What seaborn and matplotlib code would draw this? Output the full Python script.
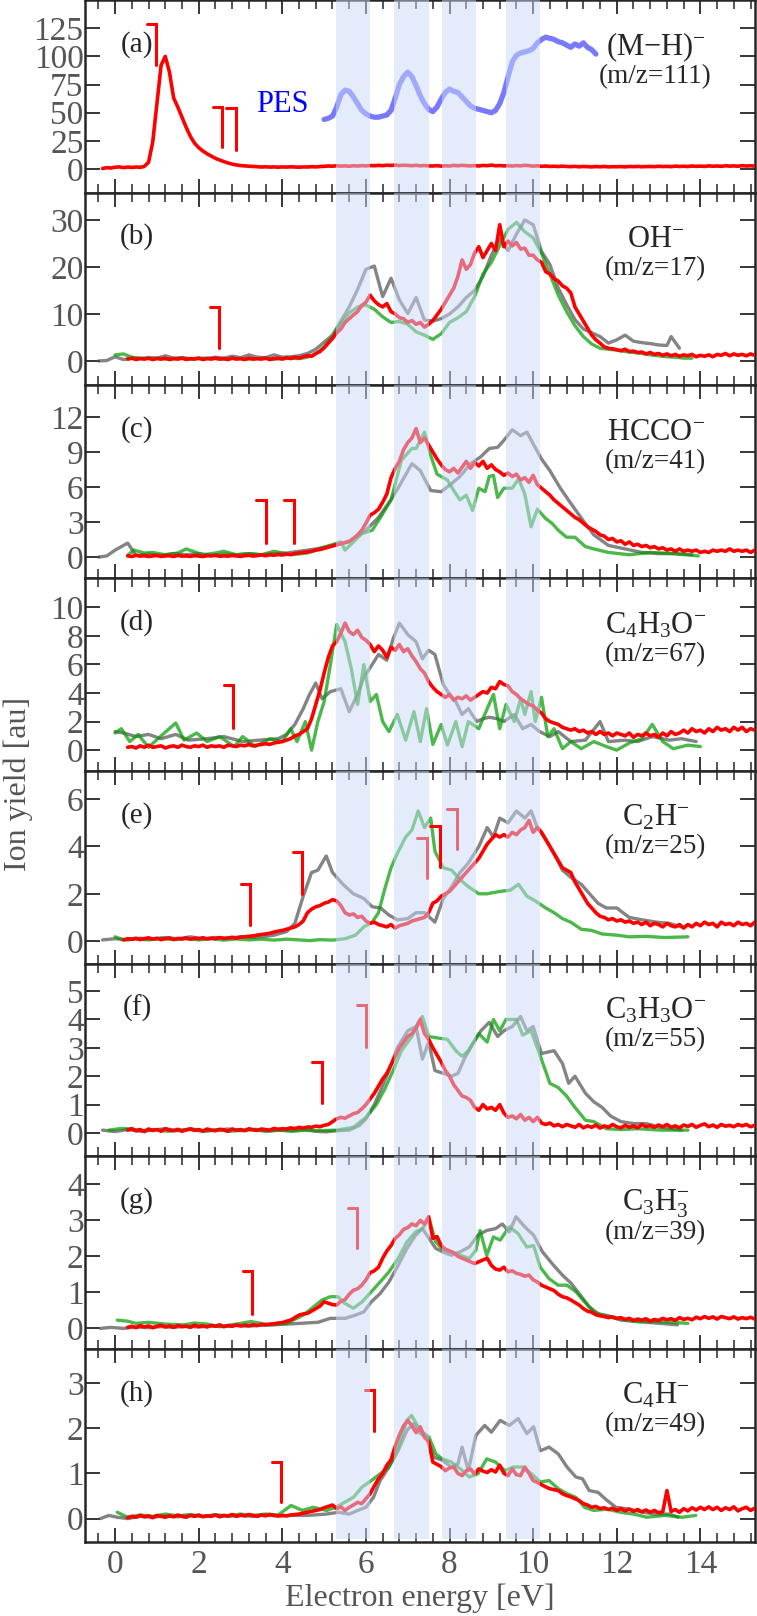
import numpy as np
import matplotlib
matplotlib.use("Agg")
import matplotlib.pyplot as plt
from matplotlib.ticker import MultipleLocator
import seaborn as sns

# photoelectron-spectrum shaded regions (eV)
bands = [(5.28, 6.10), (6.68, 7.51), (7.81, 8.64), (9.35, 10.17)]

# red curves: values on a 0.1 eV grid, first x given by *_start
a_red_start = -0.3
a_red = [0.5, 1.2, 0.9, 1.6, 1.9, 1.3, 1.7, 1.4, 1.8, 1.5,
         2.4, 6, 24, 58, 92, 100, 86, 63, 55, 46, 37, 29, 23,
         19, 16, 13.5, 11.5, 9.5, 8, 6.6, 5.4, 4.4, 3.6, 3.1, 2.8, 2.5, 2.3,
         2.1, 1.8, 2.0, 1.7, 1.9, 1.6, 1.9, 1.7, 2.0, 1.8, 1.6, 1.9, 1.8, 2.1, 1.9, 2.2,
         2.4, 2.7, 2.5, 2.9, 2.6, 2.8, 2.5, 2.9, 2.7, 3.0, 2.8, 3.1, 2.9, 3.3, 3.0, 3.4,
         3.2, 3.5, 3.1, 3.4, 3.2, 3.0, 3.3, 2.9, 3.1, 2.8, 2.7, 3.0, 2.6, 2.9, 2.7, 3.2,
         2.9, 3.3, 3.0, 2.8, 3.1, 2.7, 3.2, 3.0, 3.5, 2.9, 3.1, 2.8, 3.0, 2.7, 3.1, 2.8,
         3.3, 3.0,
         2.6, 2.9, 2.4, 2.7, 2.3, 2.5, 2.2, 2.6, 2.3, 2.1, 2.4, 2.0, 2.3, 2.1, 1.9, 2.2,
         2.0, 2.3, 1.9, 2.1, 2.0, 2.2, 1.9, 2.3, 2.1, 2.4, 2.0, 2.2, 2.3, 2.1, 2.5, 2.2,
         2.4, 2.1, 2.6, 2.3, 2.5, 2.2, 2.7, 2.4, 2.6, 2.3, 2.8, 2.5, 2.7, 2.4, 2.9, 2.6,
         2.8, 2.5, 3.0, 2.7, 2.9, 2.6]

pes_start = 5.0
pes = [44, 45, 47, 55, 66, 70, 69, 64, 58, 52, 49, 47, 46, 46, 47, 48, 52, 63, 75, 82,
       86, 82, 74, 65, 58, 53, 51, 55, 62, 68, 71, 69, 68, 64, 60, 56, 54, 53, 52, 51,
       50, 52, 58, 68, 82, 95, 101, 103, 104, 105, 107, 112, 115, 117, 116, 115, 113,
       112, 110, 108, 111, 109, 112, 108, 106, 102]

b_red_start = 0.3
b_red = [0.4, 0.6, 0.3, 0.5, 0.4, 0.6, 0.3, 0.5, 0.4, 0.6, 0.3, 0.5, 0.4, 0.6, 0.3, 0.5,
         0.4, 0.6, 0.3, 0.5, 0.4, 0.6, 0.4, 0.5, 0.3, 0.6, 0.4, 0.5, 0.3, 0.6, 0.4, 0.5,
         0.4, 0.6, 0.3, 0.5, 0.6, 0.4, 0.7, 0.5, 0.8, 0.6, 0.9, 1.1, 1.0, 1.6, 2.0,
         2.8, 3.8, 4.8, 6.0, 6.8, 8.2, 9.0, 9.8, 10.5, 11.8, 12.5, 14.0, 12.8, 12.0, 11.5,
         12.2, 10.5, 10.0, 9.2, 9.0, 8.2, 8.6, 7.8, 8.2, 7.2, 7.8, 8.6, 9.8, 11.0, 12.5,
         14.0, 15.5, 18.0, 21.5, 19.5, 20.5, 23.0, 24.3, 22.0, 23.5, 25.0, 23.5, 29.0,
         24.3, 25.5, 24.5, 25.2, 23.8, 24.0, 22.5, 22.5, 21.5, 21.0, 19.0, 18.5, 17.5,
         17.0, 16.0, 15.5, 14.5, 11.5, 10.0, 8.5, 7.0, 5.5, 4.5, 3.8, 3.0, 2.7, 2.6, 2.4,
         2.2, 2.5, 2.0, 2.1, 1.8, 1.9, 1.5, 1.8, 1.4, 1.6, 1.2, 1.5, 1.1, 1.4, 1.0, 1.3,
         1.1, 1.4, 0.9, 1.2, 1.0, 1.3, 0.9, 1.4, 1.2, 1.6, 1.1, 1.5, 1.2, 1.4, 1.1, 1.5,
         1.2]

c_red_start = 0.3
c_red = [0.1, 0.05, 0.15, 0.08, 0.12, 0.05, 0.1, 0.14, 0.06, 0.1, 0.12, 0.05, 0.15, 0.08,
         0.1, 0.06, 0.13, 0.09, 0.05, 0.12, 0.1, 0.15, 0.07, 0.11, 0.08, 0.14, 0.1, 0.06,
         0.12, 0.15, 0.09, 0.13, 0.18, 0.12, 0.2, 0.16, 0.22, 0.18, 0.25, 0.22, 0.3,
         0.35, 0.4, 0.45, 0.5, 0.6, 0.65, 0.75, 0.85, 0.95, 1.05, 1.15, 1.25, 1.35, 1.6,
         1.9, 2.3, 2.9, 3.6, 3.8, 4.1, 4.7, 5.4, 6.8, 7.6, 8.2, 9.2, 9.8, 10.2, 11.0, 9.8,
         10.2, 9.6, 9.0, 8.4, 7.9, 7.5, 7.3, 7.6, 7.2, 7.7, 8.2, 7.6, 8.1, 7.8, 8.2, 7.6,
         7.9, 7.5, 7.3, 7.0, 7.2, 6.9, 7.1, 6.6, 6.8, 6.4, 7.0, 6.2, 5.9, 5.6, 5.3, 4.9,
         4.6, 4.3, 4.0, 3.7, 3.4, 3.2, 2.9, 2.6, 2.4, 2.2, 1.9, 1.8, 1.5, 1.6, 1.3, 1.4,
         1.1, 1.3, 1.0, 1.1, 0.9, 1.0, 0.8, 0.9, 0.7, 0.8, 0.6, 0.7, 0.5, 0.7, 0.5, 0.6,
         0.5, 0.6, 0.4, 0.5, 0.4, 0.6, 0.5, 0.6, 0.5, 0.7, 0.5, 0.6, 0.5, 0.6, 0.4, 0.6]

d_red_start = 0.3
d_red = [0.2, 0.25, 0.15, 0.3, 0.2, 0.35, 0.2, 0.25, 0.3, 0.15, 0.25, 0.3, 0.2, 0.35,
         0.25, 0.2, 0.3, 0.25, 0.35, 0.2, 0.3, 0.25, 0.3, 0.2, 0.35, 0.3, 0.25, 0.35, 0.3,
         0.4, 0.3, 0.35,
         0.4, 0.45, 0.4, 0.5, 0.55, 0.6, 0.7, 0.8, 1.0, 1.1, 1.3, 1.5, 2.2, 3.2, 4.2, 5.4,
         6.5, 7.3, 7.6, 8.2, 8.9, 8.3, 8.1, 8.4, 7.9, 7.7, 7.4, 6.9, 7.3, 7.0, 6.5, 7.2,
         7.0, 7.4, 6.9, 7.1, 6.6, 6.2, 5.7, 5.4, 4.8, 4.4, 4.1, 3.9, 3.7, 3.9, 3.5, 3.7,
         3.6, 3.8, 3.5, 3.7, 3.9, 4.1, 4.0, 4.4, 4.3, 4.8, 4.6, 4.5, 4.1, 3.9, 3.6, 3.4,
         3.2, 3.1, 2.8, 2.6, 2.2, 2.0, 1.9, 1.8, 1.6, 1.5, 1.4, 1.5, 1.3, 1.4, 1.2, 1.3,
         1.1, 1.3, 1.1, 1.2, 1.0, 1.2, 1.1, 1.0, 1.2, 0.9, 1.1, 1.0, 1.2, 1.0, 1.1, 0.9,
         1.2, 1.0, 1.3, 1.1, 1.2, 1.4, 1.2, 1.5, 1.3, 1.4, 1.2, 1.5, 1.3, 1.6, 1.4, 1.5,
         1.3, 1.6, 1.4, 1.6, 1.3, 1.5, 1.4]

e_red_start = 0.2
e_red = [0.05, 0.1, 0.08, 0.12, 0.06, 0.1, 0.14, 0.08, 0.12, 0.06, 0.1, 0.13, 0.07, 0.11,
         0.09, 0.13, 0.08, 0.12, 0.1, 0.14, 0.09, 0.12, 0.1, 0.15, 0.11, 0.13, 0.16, 0.12,
         0.17,
         0.18, 0.2, 0.22, 0.25, 0.28, 0.3, 0.33, 0.38, 0.42, 0.45, 0.5, 0.55, 0.6, 0.7,
         0.85, 1.2, 1.35, 1.45, 1.5, 1.6, 1.65, 1.75, 1.7, 1.5, 1.2, 1.1, 1.15, 1.0, 1.05,
         0.85, 0.75, 0.8, 0.7, 0.65, 0.6, 0.7, 0.55, 0.65, 0.7, 0.75, 0.85, 0.9, 0.95, 1.0,
         1.2, 1.6, 1.7, 1.9, 2.0, 2.1, 2.3, 2.5, 2.7, 2.9, 3.1, 3.3, 3.5, 3.8, 4.1, 4.3,
         4.5, 4.4, 4.5, 4.4, 4.6, 4.5, 4.7, 4.8, 5.1, 4.6, 4.8, 4.6, 4.3, 4.0, 3.7, 3.4,
         3.1, 3.0, 2.9, 2.5, 2.2, 1.9, 1.6, 1.4, 1.2, 1.05, 1.0, 0.9, 0.95, 0.85, 0.9, 0.8,
         0.85, 0.75, 0.8, 0.7, 0.8, 0.65, 0.75, 0.7, 0.6, 0.75, 0.65, 0.6, 0.7, 0.55, 0.7,
         0.6, 0.75, 0.65, 0.8, 0.7, 0.75, 0.6, 0.8, 0.7, 0.75, 0.65, 0.8, 0.7, 0.75, 0.65,
         0.8]

f_red_start = 0.3
f_red = [0.1, 0.15, 0.08, 0.12, 0.05, 0.14, 0.09, 0.12, 0.06, 0.15, 0.1, 0.08, 0.13, 0.06,
         0.11, 0.15, 0.09, 0.12, 0.07, 0.14, 0.1, 0.08, 0.13, 0.11, 0.06, 0.14, 0.1, 0.12,
         0.08, 0.15, 0.11, 0.09, 0.14, 0.12, 0.1, 0.16, 0.13, 0.15,
         0.14, 0.18, 0.15, 0.2, 0.17, 0.21, 0.2, 0.24, 0.22, 0.27, 0.3, 0.4, 0.5, 0.55,
         0.52, 0.6, 0.68, 0.72, 0.85, 1.0, 1.2, 1.4, 1.65, 1.9, 2.1, 2.4, 2.7, 3.0, 3.2,
         3.4, 3.5, 3.7, 4.0, 3.5, 3.3, 3.0, 2.75, 2.5, 2.2, 2.0, 1.7, 1.5, 1.3, 1.25, 1.15,
         0.9, 0.8, 1.0, 0.85, 0.9, 0.8, 1.0, 0.7, 0.55, 0.6, 0.5, 0.65, 0.45, 0.55, 0.4,
         0.55, 0.35, 0.3, 0.35, 0.25, 0.3, 0.22, 0.3, 0.25, 0.2, 0.3, 0.18, 0.25, 0.2,
         0.28, 0.17, 0.25, 0.2, 0.3, 0.22, 0.18, 0.27, 0.2, 0.25, 0.18, 0.3, 0.22, 0.26,
         0.2, 0.28, 0.22, 0.3, 0.2, 0.25, 0.18, 0.28, 0.23, 0.3, 0.2, 0.27, 0.32, 0.22,
         0.28, 0.2, 0.3, 0.24, 0.27, 0.22, 0.3, 0.25, 0.3, 0.22, 0.27]

g_red_start = 0.3
g_red = [0.03, 0.06, 0.02, 0.08, 0.04, 0.07, 0.02, 0.06, 0.09, 0.04, 0.07, 0.03, 0.08,
         0.05, 0.06, 0.03, 0.09, 0.05, 0.07, 0.04, 0.08, 0.06, 0.1, 0.05, 0.08, 0.06, 0.1,
         0.07, 0.09, 0.08,
         0.1, 0.08, 0.11, 0.1, 0.12, 0.13, 0.15, 0.16, 0.2, 0.23, 0.3, 0.37, 0.4, 0.42,
         0.48, 0.55, 0.62, 0.74, 0.7, 0.66, 0.65, 0.75, 0.8, 0.95, 1.06, 1.1, 1.2, 1.35,
         1.55, 1.6, 1.7, 1.95, 2.15, 2.3, 2.5, 2.6, 2.75, 2.8, 2.9, 2.85, 3.0, 2.9, 3.1,
         2.5, 2.55, 2.3, 2.2, 2.15, 2.1, 2.0, 1.95, 1.9, 1.85, 1.8, 1.85, 1.9, 1.95, 1.75,
         1.65, 1.62, 1.7, 1.57, 1.6, 1.53, 1.5, 1.45, 1.48, 1.35, 1.29, 1.2, 1.15, 1.1,
         1.05, 0.95, 0.88, 0.85, 0.79, 0.72, 0.65, 0.55, 0.48, 0.45, 0.38, 0.35, 0.33, 0.3,
         0.32, 0.28, 0.3, 0.25, 0.28, 0.22, 0.26, 0.23, 0.27, 0.2, 0.25, 0.22, 0.28, 0.24,
         0.27, 0.22, 0.3, 0.25, 0.28, 0.24, 0.31, 0.27, 0.33, 0.28, 0.32, 0.26, 0.33, 0.3,
         0.27, 0.32, 0.26, 0.3, 0.27, 0.31, 0.26]

h_red_start = 0.3
h_red = [0.02, 0.05, 0.03, 0.07, 0.04, 0.06, 0.02, 0.07, 0.05, 0.03, 0.06, 0.04, 0.08,
         0.05, 0.03, 0.07, 0.05, 0.08, 0.04, 0.06, 0.05, 0.08, 0.04, 0.07, 0.06, 0.09,
         0.05, 0.08, 0.06, 0.09, 0.07, 0.05, 0.08, 0.06, 0.09, 0.07, 0.06, 0.07,
         0.06, 0.08, 0.09, 0.1, 0.12, 0.14, 0.16, 0.18, 0.2, 0.24, 0.27, 0.3, 0.22, 0.26,
         0.18, 0.25, 0.3, 0.36, 0.33, 0.44, 0.55, 0.72, 0.88, 1.0, 1.18, 1.3, 1.6, 1.85,
         2.05, 2.17, 2.05, 1.9, 2.03, 1.8, 1.7, 1.25, 1.2, 1.15, 1.06, 1.12, 1.14, 1.0,
         0.95, 1.06, 1.1, 0.98, 1.1, 1.05, 1.02, 1.08, 1.03, 1.18, 1.0, 0.95, 1.1, 0.97,
         0.95, 1.14, 1.0, 0.84, 0.8, 0.75, 0.7, 0.66, 0.64, 0.62, 0.55, 0.51, 0.48, 0.44,
         0.4, 0.33, 0.3, 0.25, 0.27, 0.22, 0.24, 0.2, 0.23, 0.18, 0.22, 0.17, 0.21, 0.16,
         0.2, 0.15, 0.19, 0.14, 0.18, 0.13, 0.15, 0.62, 0.16, 0.2, 0.14, 0.22, 0.17, 0.24,
         0.19, 0.25, 0.2, 0.26, 0.2, 0.25, 0.18, 0.24, 0.2, 0.26, 0.17, 0.22, 0.25, 0.18,
         0.23]

# gray and green curves: (energy, yield) points
b_gray = [(-0.4, 0.0), (-0.2, 0.1), (0.0, 0.9), (0.2, 0.3), (0.4, 0.6), (0.6, 0.5), (0.8, 0.7),
          (1.0, 0.6), (1.2, 1.1), (1.4, 0.6), (1.6, 0.7), (1.8, 0.5), (2.0, 0.6), (2.2, 0.5),
          (2.4, 0.8), (2.6, 0.6), (2.8, 1.0), (3.0, 0.7), (3.2, 1.3), (3.4, 0.8), (3.6, 0.7),
          (3.8, 1.3), (4.0, 0.8), (4.2, 0.9), (4.4, 1.1), (4.6, 1.6), (4.8, 2.5), (5.0, 4.0),
          (5.2, 5.5), (5.4, 8.5), (5.6, 11.5), (5.8, 15.2), (6.0, 19.5), (6.2, 20.2),
          (6.4, 13.7), (6.6, 17.6), (6.8, 13.0), (7.0, 10.1), (7.2, 13.5), (7.4, 8.7),
          (7.6, 8.5), (7.8, 9.0), (8.0, 10.0), (8.2, 11.5), (8.4, 13.5), (8.6, 15.0),
          (8.8, 18.0), (9.0, 22.5), (9.2, 26.0), (9.4, 23.5), (9.6, 27.0), (9.8, 30.0),
          (10.0, 29.0), (10.2, 23.3), (10.4, 20.5), (10.6, 15.5), (10.8, 12.0), (11.0, 8.8),
          (11.2, 6.8), (11.4, 6.0), (11.6, 5.2), (11.8, 3.8), (12.0, 4.5), (12.2, 5.5),
          (12.4, 4.2), (12.6, 3.9), (12.8, 3.7), (13.0, 3.4), (13.2, 3.3), (13.3, 5.2),
          (13.5, 2.7)]
b_green = [(0.0, 1.3), (0.2, 1.5), (0.4, 0.8), (0.6, 0.6), (0.8, 0.5), (1.0, 0.6), (1.2, 0.4),
           (1.4, 0.5), (1.6, 0.6), (1.8, 0.4), (2.0, 0.5), (2.2, 0.6), (2.4, 0.5), (2.6, 0.4),
           (2.8, 0.6), (3.0, 0.5), (3.2, 0.4), (3.4, 0.5), (3.6, 0.6), (3.8, 0.4), (4.0, 0.5),
           (4.2, 0.6), (4.4, 0.5), (4.6, 0.8), (4.8, 1.5), (5.0, 3.0), (5.2, 5.2), (5.4, 8.0),
           (5.6, 10.2), (5.8, 11.5), (6.0, 11.9), (6.2, 11.0), (6.4, 9.4), (6.6, 8.2),
           (6.8, 8.4), (7.0, 7.8), (7.2, 6.2), (7.4, 5.5), (7.6, 4.6), (7.8, 5.8), (8.0, 8.2),
           (8.2, 9.2), (8.4, 10.5), (8.6, 13.7), (8.8, 18.5), (9.0, 21.0), (9.2, 24.5),
           (9.4, 28.0), (9.6, 29.5), (9.8, 27.5), (10.0, 26.2), (10.2, 22.9), (10.4, 18.5),
           (10.6, 14.0), (10.8, 10.5), (11.0, 7.5), (11.2, 5.2), (11.4, 3.6), (11.6, 2.7),
           (11.8, 2.5), (12.0, 2.3), (12.2, 2.0), (12.4, 1.8), (12.6, 1.6), (12.8, 1.3),
           (13.0, 1.1), (13.2, 0.9), (13.4, 0.8), (13.6, 0.6), (13.8, 0.6)]

c_gray = [(-0.4, 0.0), (-0.2, 0.1), (0.0, 0.6), (0.3, 1.2), (0.5, 0.15), (0.8, 0.25),
          (1.1, 0.15), (1.4, 0.3), (1.7, 0.2), (2.0, 0.3), (2.3, 0.15), (2.6, 0.25),
          (2.9, 0.2), (3.2, 0.3), (3.5, 0.2), (3.8, 0.3), (4.1, 0.35), (4.4, 0.5), (4.8, 0.7),
          (5.2, 1.0), (5.6, 1.3), (6.0, 2.3), (6.3, 3.4), (6.6, 4.9), (6.8, 6.1), (7.1, 8.0),
          (7.3, 7.4), (7.55, 5.7), (7.8, 5.6), (8.05, 6.3), (8.25, 6.9), (8.5, 8.0),
          (8.75, 8.6), (8.95, 9.3), (9.15, 9.4), (9.3, 10.0), (9.5, 10.9), (9.7, 10.4),
          (9.85, 10.7), (10.0, 9.7), (10.2, 8.4), (10.4, 7.4), (10.65, 5.9), (10.9, 4.6),
          (11.2, 3.1), (11.45, 1.9), (11.8, 1.0), (12.2, 0.7), (12.6, 0.4), (13.0, 0.3),
          (13.4, 0.3), (13.8, 0.2)]
c_green = [(0.3, 0.15), (0.45, 0.6), (0.7, 0.35), (0.9, 0.4), (1.2, 0.2), (1.5, 0.35),
           (1.7, 0.7), (2.1, 0.2), (2.4, 0.35), (2.6, 0.5), (2.9, 0.2), (3.2, 0.3), (3.5, 0.2),
           (3.7, 0.4), (3.8, 0.5), (4.2, 0.2), (4.6, 0.35), (5.05, 0.9), (5.4, 1.3),
           (5.5, 0.6), (5.7, 1.3), (5.9, 2.0), (6.15, 2.3), (6.35, 3.4), (6.6, 4.9),
           (6.85, 8.3), (7.1, 9.3), (7.2, 9.3), (7.4, 10.7), (7.55, 8.7), (7.7, 7.1),
           (7.95, 6.6), (8.1, 5.7), (8.25, 4.9), (8.4, 5.3), (8.55, 4.0), (8.7, 5.9),
           (8.85, 5.6), (8.95, 6.9), (9.05, 7.0), (9.15, 5.1), (9.3, 5.9), (9.5, 5.9),
           (9.65, 6.7), (9.8, 5.4), (9.95, 2.6), (10.1, 4.1), (10.3, 3.3), (10.45, 2.9),
           (10.6, 2.3), (10.8, 1.7), (11.0, 1.7), (11.25, 0.9), (11.45, 0.7), (11.8, 0.4),
           (12.3, 0.2), (12.8, 0.4), (13.35, 0.3), (13.95, 0.1)]

d_gray = [(0.0, 1.3), (0.2, 1.2), (0.5, 0.95), (0.8, 1.1), (1.1, 0.8), (1.45, 1.1), (1.75, 0.7),
          (2.2, 0.8), (2.6, 0.95), (3.05, 0.6), (3.45, 0.7), (3.9, 0.8), (4.1, 1.1), (4.3, 1.8),
          (4.5, 2.9), (4.65, 3.9), (4.8, 4.7), (4.95, 3.6), (5.15, 4.1), (5.4, 4.3), (5.6, 2.7),
          (5.8, 3.9), (5.95, 5.1), (6.15, 6.0), (6.3, 6.7), (6.5, 6.3), (6.65, 7.8),
          (6.8, 8.9), (7.0, 8.1), (7.2, 7.6), (7.35, 6.4), (7.5, 7.0), (7.65, 6.7),
          (7.85, 4.6), (8.0, 3.9), (8.15, 3.4), (8.3, 2.5), (8.45, 2.9), (8.65, 2.0),
          (8.8, 2.2), (8.95, 2.3), (9.15, 2.2), (9.3, 2.0), (9.55, 2.5), (9.75, 1.5),
          (9.95, 1.8), (10.15, 1.3), (10.4, 0.95), (10.6, 1.3), (10.9, 0.6), (11.25, 0.7),
          (11.6, 2.0), (11.8, 0.6), (12.2, 0.7), (12.5, 0.6), (12.85, 0.95), (13.25, 0.7),
          (13.55, 0.8), (13.9, 0.6)]
d_green = [(0.0, 1.2), (0.15, 1.5), (0.35, 0.6), (0.55, 1.1), (0.8, 0.2), (1.1, 1.0),
           (1.45, 1.9), (1.65, 0.7), (1.95, 1.2), (2.2, 0.6), (2.5, 0.95), (2.85, 0.25),
           (3.05, 0.95), (3.35, 0.25), (3.7, 0.8), (4.0, 0.6), (4.2, 1.5), (4.35, 0.6),
           (4.55, 2.0), (4.7, 0.0), (4.85, 2.0), (5.0, 3.4), (5.15, 6.0), (5.3, 8.8),
           (5.5, 7.6), (5.65, 5.7), (5.8, 3.2), (5.95, 6.0), (6.1, 3.4), (6.25, 3.9),
           (6.4, 2.0), (6.55, 1.3), (6.75, 2.5), (6.95, 0.7), (7.15, 2.7), (7.3, 0.6),
           (7.45, 2.9), (7.6, 0.4), (7.8, 1.8), (7.95, 0.35), (8.15, 2.0), (8.3, 0.25),
           (8.45, 2.0), (8.7, 1.5), (8.9, 2.9), (9.05, 3.9), (9.2, 1.5), (9.35, 3.2),
           (9.55, 2.0), (9.7, 3.6), (9.8, 2.5), (9.95, 4.1), (10.05, 2.0), (10.2, 3.7),
           (10.35, 0.95), (10.5, 1.5), (10.7, 0.1), (10.9, 0.6), (11.15, 0.1), (11.45, 0.6),
           (11.75, 0.25), (12.0, 0.0), (12.3, 0.5), (12.6, 0.8), (12.85, 1.8), (13.1, 0.6),
           (13.35, 0.1), (13.7, 0.35), (14.0, 0.25)]

e_gray = [(-0.3, 0.05), (0.0, 0.1), (0.3, 0.05), (0.6, 0.12), (0.9, 0.08), (1.2, 0.15),
          (1.5, 0.1), (1.8, 0.18), (2.1, 0.1), (2.4, 0.15), (2.7, 0.12), (3.0, 0.18),
          (3.3, 0.15), (3.6, 0.2), (3.8, 0.25), (4.1, 0.4), (4.3, 0.75), (4.5, 1.9),
          (4.7, 2.9), (4.85, 3.0), (5.05, 3.6), (5.2, 2.9), (5.45, 2.4), (5.7, 2.0),
          (5.95, 1.8), (6.15, 1.45), (6.35, 1.4), (6.55, 1.1), (6.75, 0.9), (7.0, 0.95),
          (7.2, 1.2), (7.4, 1.2), (7.65, 0.8), (7.85, 1.8), (8.05, 2.3), (8.25, 2.9),
          (8.45, 3.3), (8.7, 4.0), (8.9, 4.8), (9.05, 4.4), (9.2, 5.2), (9.4, 5.0), (9.6, 5.5),
          (9.8, 5.2), (9.95, 5.5), (10.1, 4.8), (10.3, 4.3), (10.5, 3.7), (10.7, 3.0),
          (10.9, 2.7), (11.15, 2.4), (11.35, 2.0), (11.55, 1.6), (11.75, 1.4), (12.0, 1.4),
          (12.3, 1.0), (12.6, 0.9), (12.95, 0.8), (13.25, 0.75), (13.55, 0.6)]
e_green = [(0.0, 0.18), (0.2, 0.05), (0.5, 0.1), (0.8, 0.05), (1.1, 0.12), (1.4, 0.06),
           (1.7, 0.1), (2.0, 0.05), (2.3, 0.1), (2.6, 0.04), (2.9, 0.09), (3.2, 0.05),
           (3.5, 0.08), (3.8, 0.04), (4.1, 0.08), (4.4, 0.05), (4.65, 0.02), (4.9, 0.06),
           (5.2, 0.04), (5.5, 0.1), (5.75, 0.25), (5.95, 0.6), (6.15, 0.8), (6.3, 1.2),
           (6.45, 2.2), (6.6, 3.1), (6.75, 3.7), (6.95, 4.4), (7.1, 4.7), (7.25, 5.5),
           (7.4, 4.8), (7.55, 5.2), (7.65, 3.8), (7.85, 3.1), (8.05, 3.0), (8.25, 2.6),
           (8.45, 2.3), (8.7, 2.0), (8.9, 2.0), (9.2, 2.1), (9.45, 2.15), (9.65, 2.4),
           (9.85, 1.9), (10.05, 1.7), (10.3, 1.4), (10.5, 1.2), (10.7, 0.95), (10.9, 0.8),
           (11.15, 0.5), (11.4, 0.45), (11.65, 0.3), (12.0, 0.25), (12.3, 0.18), (12.7, 0.2),
           (13.15, 0.15), (13.7, 0.18)]

f_gray = [(-0.3, 0.1), (0.0, 0.05), (0.3, 0.12), (0.6, 0.06), (0.9, 0.1), (1.2, 0.15),
          (1.5, 0.08), (1.8, 0.12), (2.1, 0.06), (2.4, 0.1), (2.7, 0.14), (3.0, 0.08),
          (3.3, 0.12), (3.6, 0.06), (3.9, 0.1), (4.2, 0.08), (4.5, 0.12), (4.8, 0.06),
          (5.05, 0.04), (5.3, 0.08), (5.6, 0.1), (5.85, 0.27), (6.0, 0.5), (6.2, 1.0),
          (6.35, 1.5), (6.55, 2.2), (6.75, 3.0), (7.0, 3.6), (7.2, 3.75), (7.35, 2.6),
          (7.5, 3.2), (7.65, 2.2), (7.85, 2.1), (8.05, 2.0), (8.2, 2.1), (8.35, 2.6),
          (8.5, 3.0), (8.75, 3.6), (8.95, 3.9), (9.15, 3.4), (9.3, 3.6), (9.5, 3.75),
          (9.7, 4.1), (9.85, 3.6), (10.0, 3.75), (10.2, 2.8), (10.5, 2.9), (10.7, 2.45),
          (10.85, 1.75), (11.0, 2.0), (11.25, 1.4), (11.45, 1.1), (11.65, 0.9), (11.85, 0.6),
          (12.1, 0.4), (12.4, 0.33), (12.7, 0.33), (13.05, 0.2), (13.55, 0.1)]
f_green = [(-0.15, 0.1), (0.1, 0.15), (0.35, 0.15), (0.65, 0.08), (0.95, 0.12), (1.25, 0.06),
           (1.55, 0.1), (1.85, 0.14), (2.15, 0.07), (2.45, 0.11), (2.75, 0.06), (3.05, 0.1),
           (3.35, 0.13), (3.65, 0.07), (3.95, 0.1), (4.25, 0.06), (4.55, 0.1), (4.85, 0.08),
           (5.3, 0.1), (5.7, 0.2), (6.0, 0.55), (6.25, 1.0), (6.45, 1.55), (6.65, 2.2),
           (6.85, 2.9), (7.1, 3.4), (7.25, 3.9), (7.35, 4.1), (7.5, 3.4), (7.7, 3.35),
           (7.95, 3.3), (8.15, 2.9), (8.3, 2.7), (8.45, 2.9), (8.7, 3.5), (8.9, 3.2),
           (9.05, 4.0), (9.2, 3.6), (9.35, 4.0), (9.6, 4.0), (9.75, 3.45), (9.95, 3.6),
           (10.15, 2.8), (10.4, 1.75), (10.6, 1.6), (10.8, 1.3), (11.0, 0.9), (11.25, 0.45),
           (11.45, 0.4), (11.75, 0.15), (12.1, 0.12), (12.5, 0.15), (13.05, 0.1), (13.7, 0.1)]

g_gray = [(-0.35, 0.0), (-0.1, 0.03), (0.2, 0.0), (0.5, 0.04), (0.8, 0.02), (1.1, 0.05),
          (1.4, 0.03), (1.7, 0.06), (2.0, 0.04), (2.3, 0.07), (2.6, 0.05), (2.9, 0.08),
          (3.2, 0.06), (3.5, 0.09), (3.8, 0.1), (4.1, 0.12), (4.4, 0.14), (4.85, 0.17),
          (5.15, 0.28), (5.5, 0.28), (5.75, 0.37), (5.95, 0.46), (6.13, 0.74), (6.34, 0.97),
          (6.55, 1.29), (6.77, 1.75), (6.98, 2.22), (7.19, 2.59), (7.35, 2.77), (7.51, 2.5),
          (7.67, 2.22), (7.83, 2.13), (8.04, 2.03), (8.26, 2.13), (8.47, 2.26), (8.68, 2.59),
          (8.89, 2.72), (9.1, 2.77), (9.26, 2.9), (9.43, 2.68), (9.59, 3.1), (9.8, 2.82),
          (10.01, 2.59), (10.22, 2.13), (10.49, 1.75), (10.7, 1.48), (10.91, 1.25),
          (11.13, 0.92), (11.34, 0.6), (11.55, 0.41), (11.8, 0.35), (12.1, 0.23),
          (12.5, 0.19), (13.05, 0.14), (13.45, 0.1)]
g_green = [(0.05, 0.23), (0.3, 0.2), (0.5, 0.14), (0.8, 0.17), (1.2, 0.12), (1.65, 0.1),
           (1.9, 0.15), (2.2, 0.12), (2.5, 0.05), (2.9, 0.12), (3.25, 0.19), (3.7, 0.1),
           (4.1, 0.14), (4.5, 0.37), (4.75, 0.6), (4.95, 0.79), (5.15, 0.88), (5.33, 0.88),
           (5.49, 0.7), (5.7, 0.56), (5.91, 0.74), (6.13, 1.02), (6.34, 1.29), (6.55, 1.57),
           (6.77, 1.94), (6.98, 2.4), (7.19, 2.68), (7.35, 2.77), (7.51, 3.05), (7.67, 2.4),
           (7.83, 2.2), (8.04, 2.13), (8.26, 2.03), (8.47, 1.94), (8.63, 2.17), (8.73, 2.72),
           (8.89, 2.03), (9.05, 2.54), (9.21, 2.45), (9.43, 2.82), (9.64, 2.63), (9.85, 2.26),
           (10.01, 2.3), (10.17, 1.7), (10.38, 1.38), (10.6, 1.2), (10.81, 1.2), (11.02, 1.02),
           (11.23, 0.74), (11.45, 0.46), (11.6, 0.38), (11.98, 0.28), (12.5, 0.19),
           (13.05, 0.19), (13.7, 0.14)]

h_gray = [(-0.35, 0.0), (-0.15, 0.07), (0.05, 0.03), (0.3, 0.0), (0.6, 0.05), (0.9, 0.03),
          (1.2, 0.06), (1.5, 0.04), (1.8, 0.07), (2.1, 0.05), (2.4, 0.08), (2.7, 0.05),
          (3.0, 0.07), (3.3, 0.05), (3.6, 0.08), (3.9, 0.06), (4.2, 0.07), (4.6, 0.07),
          (5.05, 0.1), (5.35, 0.14), (5.6, 0.1), (5.8, 0.18), (6.0, 0.25), (6.18, 0.47),
          (6.34, 0.84), (6.55, 1.14), (6.77, 1.5), (6.98, 1.95), (7.14, 2.1), (7.3, 1.88),
          (7.46, 1.8), (7.62, 1.36), (7.83, 1.29), (8.04, 1.14), (8.2, 1.21), (8.3, 1.58),
          (8.45, 1.06), (8.63, 1.84), (8.84, 2.06), (9.0, 1.91), (9.21, 2.17), (9.43, 2.06),
          (9.64, 2.21), (9.85, 1.88), (10.01, 2.03), (10.17, 1.5), (10.38, 1.58),
          (10.6, 1.43), (10.81, 1.14), (11.02, 0.92), (11.18, 0.88), (11.34, 0.62),
          (11.55, 0.58), (11.77, 0.4), (11.98, 0.25), (12.3, 0.21), (12.62, 0.14),
          (12.94, 0.1), (13.26, 0.1), (13.47, 0.03)]
h_green = [(0.05, 0.14), (0.3, 0.03), (0.6, 0.08), (0.9, 0.05), (1.2, 0.1), (1.5, 0.06),
           (1.8, 0.09), (2.1, 0.05), (2.4, 0.08), (2.7, 0.06), (3.0, 0.1), (3.3, 0.07),
           (3.6, 0.1), (3.9, 0.08), (4.21, 0.29), (4.48, 0.18), (4.74, 0.25), (5.06, 0.18),
           (5.28, 0.25), (5.49, 0.36), (5.7, 0.47), (5.91, 0.7), (6.13, 0.84), (6.34, 0.99),
           (6.55, 1.14), (6.77, 1.58), (6.98, 2.17), (7.09, 2.28), (7.3, 1.95), (7.51, 1.8),
           (7.67, 1.43), (7.83, 1.32), (8.04, 1.25), (8.26, 1.1), (8.47, 0.92), (8.68, 0.99),
           (8.89, 1.32), (9.1, 1.25), (9.32, 1.06), (9.53, 1.14), (9.74, 1.14), (9.96, 0.99),
           (10.17, 0.81), (10.38, 0.84), (10.6, 0.66), (10.81, 0.55), (11.02, 0.47),
           (11.23, 0.25), (11.45, 0.18), (11.77, 0.21), (12.09, 0.14), (12.4, 0.1),
           (12.72, 0.03), (13.15, 0.07), (13.57, 0.03), (13.89, 0.07)]

# threshold markers: (energy, top, bottom)
a_marks = [(0.98, 129, 92), (2.56, 55, 20), (2.88, 54, 17)]
b_marks = [(2.49, 11.5, 2.8)]
c_marks = [(3.60, 4.86, 1.2), (4.27, 4.86, 1.2)]
d_marks = [(2.83, 4.57, 1.58)]
e_marks = [(3.23, 2.41, 0.68), (4.48, 3.77, 2.0), (7.45, 4.38, 2.65), (7.76, 4.85, 3.14),
           (8.17, 5.6, 3.9)]
f_marks = [(4.94, 2.51, 1.06), (6.0, 4.51, 3.04)]
g_marks = [(3.28, 1.59, 0.4), (5.79, 3.33, 2.22)]
h_marks = [(3.97, 1.25, 0.36), (6.20, 2.84, 1.93)]

tags = ['(a)', '(b)', '(c)', '(d)', '(e)', '(f)', '(g)', '(h)']
ions = ['(M\u2212H)$^{-}$', 'OH$^{-}$', 'HCCO$^{-}$', 'C$_4$H$_3$O$^{-}$', 'C$_2$H$^{-}$',
        'C$_3$H$_3$O$^{-}$', 'C$_3$H$_3^{-}$', 'C$_4$H$^{-}$']
masses = ['(m/z=111)', '(m/z=17)', '(m/z=41)', '(m/z=67)', '(m/z=25)', '(m/z=55)',
          '(m/z=39)', '(m/z=49)']
ylims = [(-21, 150), (-5.2, 35.8), (-1.8, 14.7), (-1.45, 12.05), (-0.95, 7.2),
         (-0.82, 5.97), (-0.57, 4.78), (-0.51, 3.75)]
ystep = [25, 10, 3, 2, 2, 1, 1, 1]
ytop = [125, 30, 12, 10, 6, 5, 4, 3]

sns.set_style("ticks")
plt.rcParams['font.family'] = ['Liberation Serif', 'DejaVu Serif']
plt.rcParams['mathtext.fontset'] = 'custom'
plt.rcParams['mathtext.rm'] = 'Liberation Serif'
plt.rcParams['mathtext.it'] = 'Liberation Serif:italic'

tick_gray = '#555555'
red = '#ff0000'
green = '#009b00'
gray = '#505050'
band_col = (202 / 255, 217 / 255, 249 / 255)


def grid(start, vals):
    return start + 0.1 * np.arange(len(vals))


reds = [(a_red_start, a_red), (b_red_start, b_red), (c_red_start, c_red),
        (d_red_start, d_red), (e_red_start, e_red), (f_red_start, f_red),
        (g_red_start, g_red), (h_red_start, h_red)]
grays = [None, b_gray, c_gray, d_gray, e_gray, f_gray, g_gray, h_gray]
greens = [None, b_green, c_green, d_green, e_green, f_green, g_green, h_green]
marks = [a_marks, b_marks, c_marks, d_marks, e_marks, f_marks, g_marks, h_marks]

fig, axes = plt.subplots(8, 1, figsize=(7.57, 16.16), dpi=100, sharex=True)
fig.subplots_adjust(left=0.1123, right=0.997, top=1.0, bottom=0.046, hspace=0)

for i, ax in enumerate(axes):
    if grays[i] is not None:
        gx, gy = np.array(grays[i]).T
        sns.lineplot(x=gx, y=gy, ax=ax, color=gray, lw=2.4, alpha=0.7,
                     estimator=None, sort=False, zorder=3)
        hx, hy = np.array(greens[i]).T
        sns.lineplot(x=hx, y=hy, ax=ax, color=green, lw=2.4, alpha=0.7,
                     estimator=None, sort=False, zorder=4)
    start, vals = reds[i]
    sns.lineplot(x=grid(start, vals), y=vals, ax=ax, color=red, lw=2.6,
                 estimator=None, sort=False, zorder=5)
    if i == 0:
        sns.lineplot(x=grid(pes_start, pes), y=pes, ax=ax, color='#2020ff', lw=3.8,
                     alpha=0.6, estimator=None, sort=False, zorder=4)
        ax.text(4.0, 57, 'PES', color='#0000ff', fontsize=22, ha='center', va='center')
    for x0, top, bot in marks[i]:
        ax.plot([x0 - 0.22, x0, x0], [top, top, bot], color=red, lw=2.2, zorder=6,
                solid_joinstyle='miter')
    for lo, hi in bands:
        ax.axvspan(lo, hi, ymin=0.012 if i == 7 else 0, ymax=1, color=band_col,
                   alpha=0.5, lw=0, zorder=10)

    ax.set_ylim(*ylims[i])
    ax.set_yticks(np.arange(0, ytop[i] + 0.5 * ystep[i], ystep[i]))
    ax.set_xlim(-0.72, 15.3)
    ax.xaxis.set_major_locator(MultipleLocator(2))
    ax.xaxis.set_minor_locator(MultipleLocator(0.4))
    ax.tick_params(axis='x', which='both', direction='in', top=True, bottom=True)
    ax.tick_params(axis='x', which='major', length=10, width=1.3, labelsize=24,
                   labelcolor=tick_gray, pad=6)
    ax.tick_params(axis='x', which='minor', length=6.5, width=1.1)
    ax.tick_params(axis='y', which='major', direction='in', left=True, right=True,
                   length=11, width=1.3, labelsize=24, labelcolor=tick_gray, pad=1)
    for sp in ax.spines.values():
        sp.set_linewidth(1.8)
    ax.set_ylabel('')
    ax.text(0.078, 0.77, tags[i], transform=ax.transAxes, fontsize=21,
            ha='center', va='center')
    ax.text(0.852, 0.755, ions[i], transform=ax.transAxes, fontsize=22,
            ha='center', va='center')
    ax.text(0.852, 0.605, masses[i], transform=ax.transAxes, fontsize=19.5,
            ha='center', va='center')

axes[-1].set_xlabel('Electron energy [eV]', fontsize=23, color=tick_gray, labelpad=2)
fig.text(0.024, 0.515, 'Ion yield [au]', rotation=90, fontsize=23, color=tick_gray,
         ha='center', va='center')

fig.savefig('out.png', dpi=100)
